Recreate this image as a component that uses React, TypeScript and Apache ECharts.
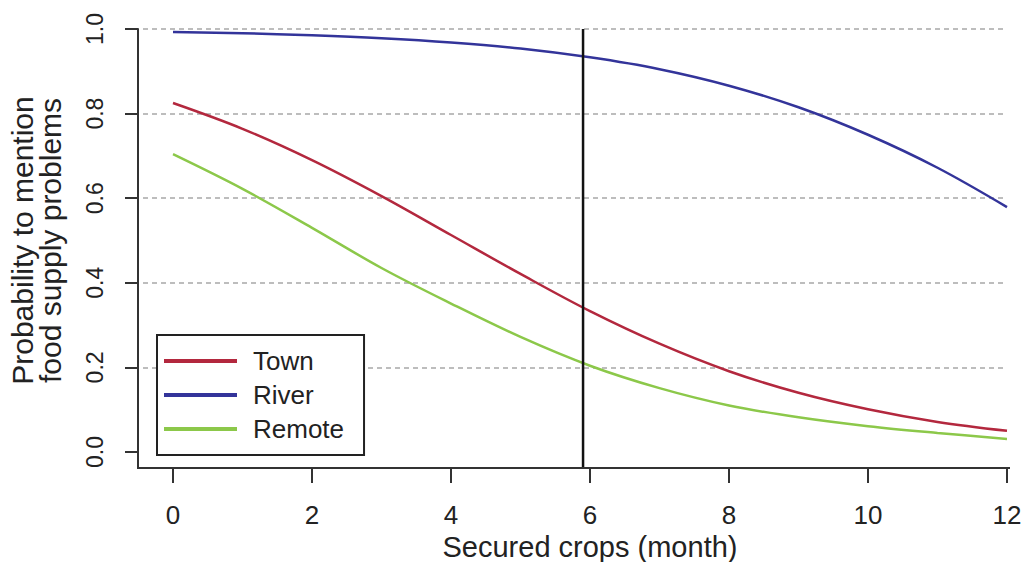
import React, { useEffect, useRef } from "react";
import * as echarts from "echarts";

const months = [0, 1, 2, 3, 4, 5, 6, 7, 8, 9, 10, 11, 12];
const town = [0.825, 0.764, 0.69, 0.605, 0.513, 0.421, 0.333, 0.256, 0.191, 0.14, 0.101, 0.071, 0.05];
const river = [0.993, 0.99, 0.985, 0.978, 0.968, 0.954, 0.933, 0.905, 0.866, 0.815, 0.75, 0.672, 0.579];
const remote = [0.704, 0.622, 0.53, 0.435, 0.351, 0.272, 0.204, 0.151, 0.11, 0.082, 0.061, 0.045, 0.031];
const seriesNames = ["Town", "River", "Remote"];
const seriesColors = ["#b3283e", "#33349a", "#8cc84a"];
const cutoffMonth = 5.9;
const cutoffRange = [1.0, -0.038];

const FONT = "'Liberation Sans', Arial, Helvetica, sans-serif";
const TXT = "#222";

export default function App() {
  const ref = useRef<HTMLDivElement>(null);
  useEffect(() => {
    if (!ref.current) return;
    const chart = echarts.init(ref.current, null, { renderer: "svg" });
    const values = [town, river, remote];
    const option: any = {
      animation: false,
      backgroundColor: "#ffffff",
      textStyle: { fontFamily: FONT },
      grid: [
        { left: 173, right: 18, top: 29, bottom: 110, outerBoundsMode: "none" },
        { left: 143, right: 18, top: 29, bottom: 110, outerBoundsMode: "none" },
      ],
      xAxis: [
        {
          type: "value",
          gridIndex: 0,
          min: 0,
          max: 12,
          interval: 2,
          offset: 16,
          splitLine: { show: false },
          axisLine: { show: true, onZero: false, lineStyle: { color: "#333", width: 2 } },
          axisTick: { show: true, length: 15, lineStyle: { color: "#333", width: 2 } },
          axisLabel: { color: TXT, fontSize: 26, fontFamily: FONT, margin: 34 },
          name: "Secured crops (month)",
          nameLocation: "middle",
          nameGap: 60,
          nameTextStyle: { color: TXT, fontSize: 29, fontFamily: FONT },
        },
        { type: "value", gridIndex: 1, min: 0, max: 1, show: false },
      ],
      yAxis: [
        {
          type: "value",
          gridIndex: 0,
          min: 0,
          max: 1,
          interval: 0.2,
          offset: 35,
          splitLine: { show: false },
          axisLine: { show: true, onZero: false, lineStyle: { color: "#333", width: 2 } },
          axisTick: { show: true, length: 13, lineStyle: { color: "#333", width: 2 } },
          axisLabel: {
            color: TXT,
            fontSize: 23,
            fontFamily: FONT,
            rotate: 90,
            margin: 32,
            formatter: (v: number) => v.toFixed(1),
          },
          name: "Probability to mention\nfood supply problems",
          nameLocation: "middle",
          nameGap: 74,
          nameRotate: 90,
          nameTextStyle: { color: TXT, fontSize: 30, lineHeight: 28, fontFamily: FONT },
        },
        {
          type: "value",
          gridIndex: 1,
          min: 0,
          max: 1,
          interval: 0.2,
          axisLine: { show: false },
          axisTick: { show: false },
          axisLabel: { show: false },
          splitLine: {
            show: true,
            showMinLine: false,
            lineStyle: { color: "#a8a8a8", width: 1.5, type: [5, 4] },
          },
        },
      ],
      legend: {
        data: seriesNames,
        orient: "vertical",
        left: 157,
        top: 335,
        icon: "rect",
        itemWidth: 73,
        itemHeight: 4,
        itemGap: 8,
        borderColor: "#222",
        borderWidth: 2,
        backgroundColor: "#ffffff",
        padding: [13, 20, 13, 7],
        textStyle: { color: TXT, fontSize: 26, fontFamily: FONT, padding: [0, 0, 0, 11] },
      },
      graphic: [
        {
          type: "polyline",
          z: 5,
          shape: { points: [[138, 29], [138, 468], [1010, 468]] },
          style: { stroke: "#333", lineWidth: 2, fill: "none" },
        },
      ],
      series: [
        ...seriesNames.map((name, k) => ({
          name,
          type: "line",
          xAxisIndex: 0,
          yAxisIndex: 0,
          data: months.map((m, i) => [m, values[k][i]]),
          smooth: 0.35,
          showSymbol: false,
          symbol: "none",
          color: seriesColors[k],
          lineStyle: { color: seriesColors[k], width: 2.5 },
          z: 3,
        })),
        {
          name: "cutoff",
          type: "line",
          xAxisIndex: 0,
          yAxisIndex: 0,
          data: cutoffRange.map((v) => [cutoffMonth, v]),
          clip: false,
          symbol: "none",
          silent: true,
          lineStyle: { color: "#111", width: 2.5 },
          z: 4,
        },
      ],
    };
    chart.setOption(option);
    return () => chart.dispose();
  }, []);
  return (
    <div
      ref={ref}
      style={{ position: "fixed", left: 0, top: 0, width: 1025, height: 562, background: "#fff" }}
    />
  );
}
